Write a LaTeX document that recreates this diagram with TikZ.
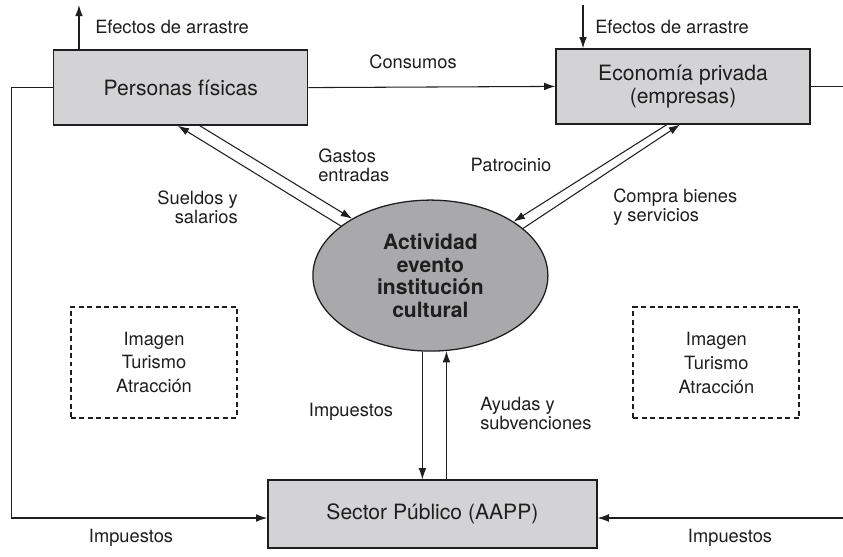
\documentclass[tikz,border=0pt]{standalone}
\usepackage{fontspec}
\setmainfont{TeX Gyre Heros}
\usepackage{tikz}
\usetikzlibrary{arrows.meta,shapes.geometric}

\definecolor{boxgray}{HTML}{D3D3D5}
\definecolor{ovalgray}{HTML}{A9A9AB}
\definecolor{ink}{HTML}{1E1E1E}

\begin{document}
\begin{tikzpicture}[
  box/.style={rectangle,draw=ink,line width=0.9pt,fill=boxgray,text=ink,
    minimum width=6.35cm,minimum height=1.875cm,align=center,
    font=\fontsize{15}{16}\selectfont},
  lbl/.style={text=ink,inner sep=0pt,font=\fontsize{13}{13.5}\selectfont},
  flow/.style={draw=ink,line width=0.75pt,-{Latex[length=8pt,width=5.5pt]}},
  line/.style={draw=ink,line width=0.75pt},
  dashbox/.style={draw=ink,line width=1.5pt,dash pattern=on 3.5pt off 2.5pt,text=ink,
    minimum width=4.15cm,minimum height=2.775cm,align=center,
    font=\fontsize{13}{17}\selectfont}]
\useasboundingbox (0,0) rectangle (21.075,13.9);

% bloques
\node[box] (pers) at (4.52,11.71) {Personas f\'isicas};
\node[box] (econ) at (17.075,11.74) {Econom\'ia privada\\(empresas)};
\node[box,minimum width=8.225cm,minimum height=1.7cm] (sec) at (10.81,1.05) {Sector P\'ublico (AAPP)};
\node[ellipse,draw=ink,line width=0.9pt,fill=ovalgray,text=ink,inner sep=0pt,
  minimum width=5.875cm,minimum height=3.775cm,align=center,
  font=\bfseries\fontsize{15}{16}\selectfont] (act) at (10.76,7.01)
  {Actividad\\evento\\instituci\'on\\cultural};

\node[dashbox] (imgl) at (3.85,4.84) {Imagen\\Turismo\\Atracci\'on};
\node[dashbox] (imgr) at (17.91,4.83) {Imagen\\Turismo\\Atracci\'on};

% extremos libres
\coordinate (upl) at (1.975,13.775);
\coordinate (upr) at (14.575,13.775);
\coordinate (edge) at (21.075,0);

% flujos
\draw[flow] (upl |- pers.north) -- (upl);
\draw[flow] (upr) -- (upr |- econ.north);
\draw[flow] (pers.east) -- (econ.west);
\draw[line] (econ.east) -- (econ.east -| edge);
\draw[flow] (pers.west) -- ++(-1.05,0) |- ([yshift=-0.1cm]sec.west);
\draw[flow] ([yshift=-0.1cm]sec.east -| edge) -- ([yshift=-0.1cm]sec.east);

\draw[flow] (act.151) -- ([xshift=-0.075cm]pers.south);
\draw[flow] ([xshift=0.475cm]pers.south) -- (act.144);
\draw[flow] ([xshift=-0.4cm]econ.south) -- (act.33);
\draw[flow] (act.27) -- ([xshift=-0.075cm]econ.south);

\draw[flow] (act.264) -- (act.264 |- sec.north);
\draw[flow] (act.282 |- sec.north) -- (act.282);

% textos
\node[lbl,anchor=west] (eal) at (2.375,13.225) {Efectos de arrastre};
\node[lbl,anchor=west] (ear) at (14.875,13.225) {Efectos de arrastre};
\node[lbl] (cons) at (10.325,12.35) {Consumos};
\node[lbl,anchor=west,align=left] (gas) at (7.95,9.775) {Gastos\\entradas};
\node[lbl,anchor=east,align=right] (sue) at (5.95,8.725) {Sueldos y\\salarios};
\node[lbl] (pat) at (12.775,9.775) {Patrocinio};
\node[lbl,anchor=west,align=left] (com) at (15.325,8.725) {Compra bienes\\y servicios};
\node[lbl] (impc) at (8.775,3.6) {Impuestos};
\node[lbl,anchor=west,align=left] (ayu) at (12.0,3.575) {Ayudas y\\subvenciones};
\node[lbl] (impl) at (3.275,0.45) {Impuestos};
\node[lbl] (impr) at (18.25,0.45) {Impuestos};
\end{tikzpicture}
\end{document}
